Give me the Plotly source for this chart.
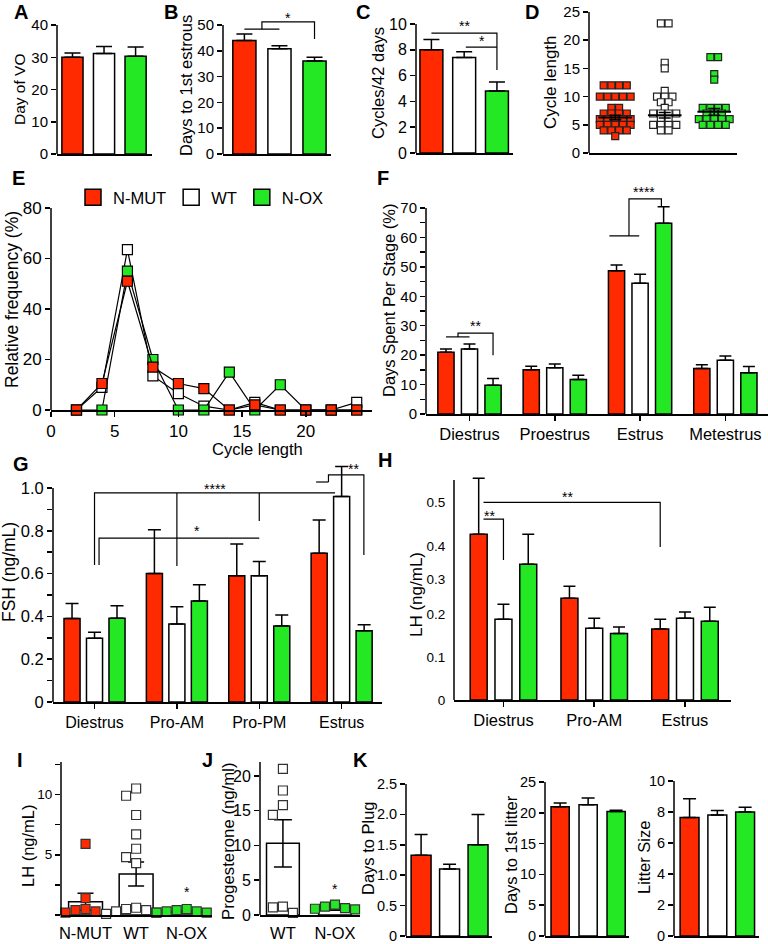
import plotly.graph_objects as go
from collections import Counter, defaultdict

FONT = "Liberation Sans, Arial, Helvetica, sans-serif"
RED = "#FF2A00"
GREEN = "#24E824"
WHITE = "#FFFFFF"
W, H = 768, 944

groups = ["N-MUT", "WT", "N-OX"]
colors = [RED, WHITE, GREEN]

# ---------------- data ----------------
# A: day of vaginal opening
vo_mean = [30.0, 31.2, 30.3]
vo_sem = [1.3, 2.1, 2.9]
# B: days to first estrous
estrous_mean = [44.0, 40.8, 36.0]
estrous_sem = [2.5, 1.2, 1.5]
# C: cycles per 42 days
cycles_mean = [8.0, 7.4, 4.8]
cycles_sem = [0.8, 0.45, 0.7]
# D: individual cycle lengths
cyclen_mut = [12, 12, 12, 12, 10, 10, 10, 10, 10, 8, 8, 7, 7, 7, 7, 6, 6, 6, 6, 6,
              5, 5, 5, 5, 5, 4, 4, 4, 4, 3]
cyclen_wt = [23, 23, 16, 15, 11, 10, 10, 10, 9, 9, 8, 7, 7, 7, 7, 6, 6, 5, 5, 5, 5, 4, 4]
cyclen_ox = [17, 17, 14, 13, 8, 8, 8, 8, 7, 7, 7, 6, 6, 6, 6, 6, 5, 5, 5, 5]
cyclen_mean = [6.3, 6.7, 7.3]
cyclen_sem = [0.4, 0.5, 0.6]
# E: relative frequency of cycle lengths
freq_x = [2, 4, 6, 8, 10, 12, 14, 16, 18, 20, 22, 24]
freq_mut = [0, 10.5, 51, 17, 10.5, 8.5, 0, 2, 0, 0, 0, 0]
freq_wt = [0, 9, 63.5, 13.5, 6.5, 1.5, 0, 3, 0, 0, 0, 3]
freq_ox = [0, 0, 55, 20, 0, 0, 15, 0, 10, 0, 0, 0]
# F: days spent per stage
stages_f = ["Diestrus", "Proestrus", "Estrus", "Metestrus"]
stage_mut = [21.0, 15.0, 48.7, 15.5]
stage_mut_sem = [1.1, 1.2, 1.9, 1.2]
stage_wt = [22.1, 15.7, 44.4, 18.3]
stage_wt_sem = [1.7, 1.3, 3.1, 1.4]
stage_ox = [9.8, 11.7, 64.8, 14.0]
stage_ox_sem = [2.3, 1.5, 5.6, 2.1]
# G: FSH
stages_g = ["Diestrus", "Pro-AM", "Pro-PM", "Estrus"]
fsh_mut = [0.39, 0.60, 0.59, 0.695]
fsh_mut_sem = [0.07, 0.205, 0.148, 0.155]
fsh_wt = [0.298, 0.364, 0.59, 0.96]
fsh_wt_sem = [0.028, 0.081, 0.066, 0.14]
fsh_ox = [0.391, 0.472, 0.355, 0.333]
fsh_ox_sem = [0.059, 0.076, 0.051, 0.028]
# H: LH by stage
stages_h = ["Diestrus", "Pro-AM", "Estrus"]
lh_mut = [0.386, 0.237, 0.165]
lh_mut_sem = [0.13, 0.028, 0.023]
lh_wt = [0.188, 0.167, 0.19]
lh_wt_sem = [0.035, 0.023, 0.015]
lh_ox = [0.316, 0.155, 0.183]
lh_ox_sem = [0.07, 0.015, 0.033]
h_tick_labels = ["0", "0.1", "0.2", "0.3", "0.4", "0.5"]
h_tick_label_vals = [0, 0.1, 0.2, 0.281, 0.358, 0.46]
# I: LH individual
lh_pts_mut = [5.9, 1.4, 0.5, 0.4, 0.3, 0.2]
lh_pts_wt = [10.5, 9.9, 8.3, 6.7, 5.5, 4.8, 4.3, 0.6, 0.5, 0.4, 0.3, 0.2, 0.1]
lh_pts_ox = [0.5, 0.4, 0.3, 0.3, 0.2, 0.2, 0.1]
lh_i_mean = [1.1, 3.4, 0.25]
lh_i_sem = [0.7, 1.0, 0.1]
# J: progesterone
groups_j = ["WT", "N-OX"]
prog_wt = [21.0, 17.9, 15.8, 14.4, 1.2, 1.1, 0.3]
prog_ox = [1.5, 1.2, 1.0, 0.9, 0.8]
prog_mean = [10.3, 0.9]
prog_sem = [3.4, 0.2]
# K
plug_mean = [1.33, 1.1, 1.5]
plug_sem = [0.34, 0.08, 0.5]
litter_day_mean = [21.0, 21.3, 20.2]
litter_day_sem = [0.6, 1.1, 0.2]
litter_size_mean = [7.65, 7.8, 8.0]
litter_size_sem = [1.2, 0.3, 0.3]

# ---------------- helpers ----------------
fig = go.Figure()
layout = dict(width=W, height=H, margin=dict(l=0, r=0, t=0, b=0, autoexpand=False),
              paper_bgcolor="white", plot_bgcolor="white",
              font=dict(family=FONT, color="black"), barmode="overlay",
              showlegend=True)
shapes = []
annotations = []


def xid(n):
    return "x" if n == 1 else f"x{n}"


def yid(n):
    return "y" if n == 1 else f"y{n}"


def panel(n, l, r, top, bot, ytop, yr, xr, yticks, yticktext=None, ytick_size=15,
          minor=None, xticks=None, xticktext=None, xtick_size=16, xticklen=5,
          xtickcolor="black"):
    ytop_px = bot - (bot - top) * yr / ytop
    xa = dict(domain=[l / W, r / W], range=xr, showline=True, linecolor="black",
              linewidth=1.5, showgrid=False, zeroline=False, anchor=yid(n),
              fixedrange=True, ticklabeloverflow="allow")
    if xticks is not None:
        xa.update(tickmode="array", tickvals=xticks, ticktext=xticktext,
                  ticks="outside", ticklen=xticklen, tickwidth=1.5,
                  tickcolor=xtickcolor, tickfont=dict(size=xtick_size))
    else:
        xa.update(showticklabels=False, ticks="")
    ya = dict(domain=[1 - bot / H, 1 - ytop_px / H], range=[0, yr], showline=False,
              showgrid=False, zeroline=False, anchor=xid(n), fixedrange=True,
              tickmode="array", tickvals=yticks, ticklabeloverflow="allow",
              ticktext=yticktext if yticktext is not None else [str(v) for v in yticks],
              ticks="outside", ticklen=5, tickwidth=1.5, tickcolor="black",
              tickfont=dict(size=ytick_size))
    if minor:
        ya["minor"] = dict(tickvals=minor, ticks="outside", ticklen=5, tickwidth=1.5,
                           tickcolor="black")
    layout["xaxis" if n == 1 else f"xaxis{n}"] = xa
    layout["yaxis" if n == 1 else f"yaxis{n}"] = ya
    shapes.append(dict(type="line", xref=f"{xid(n)} domain", yref=yid(n), x0=0, x1=0,
                       y0=0, y1=ytop, line=dict(color="black", width=1.5)))


def bars(n, x, y, cols, width, err, errminus=None, cap=6):
    fig.add_trace(go.Bar(
        x=x, y=y, width=width,
        marker=dict(color=cols, line=dict(color="black", width=1.5)),
        error_y=dict(type="data", array=err,
                     arrayminus=errminus if errminus is not None else [0] * len(err),
                     symmetric=False, color="black", thickness=1.5, width=cap),
        xaxis=xid(n), yaxis=yid(n), showlegend=False, hoverinfo="skip"))


def swarm(vals, center, px_per_y, px_per_x, size):
    """collision-based beeswarm offsets (deterministic)"""
    placed = []
    out = []
    cands = sorted([j * size / 2 for j in range(-24, 25)], key=lambda v: (abs(v), v))
    for v in vals:
        ypx = v * px_per_y
        for c in cands:
            if all(not (abs(c - px) < size and abs(ypx - py) < size) for px, py in placed):
                placed.append((c, ypx))
                out.append(center + c / px_per_x)
                break
    return out


def rows(vals, center, spacing_px, px_per_x):
    """equal values laid side by side, centred on the group"""
    counts = Counter(vals)
    seen = defaultdict(int)
    out = []
    for v in vals:
        i = seen[v]
        seen[v] += 1
        out.append(center + (i - (counts[v] - 1) / 2) * spacing_px / px_per_x)
    return out


def points(n, xs, ys, color, size, lw=1.2, lc="black"):
    fig.add_trace(go.Scatter(
        x=xs, y=ys, mode="markers", cliponaxis=False,
        marker=dict(symbol="square", size=size, color=color, line=dict(color=lc, width=lw)),
        xaxis=xid(n), yaxis=yid(n), showlegend=False, hoverinfo="skip"))


def poly(n, pts, w=1.2):
    d = "M " + " L ".join(f"{x},{y}" for x, y in pts)
    shapes.append(dict(type="path", path=d, xref=xid(n), yref=yid(n),
                       line=dict(color="black", width=w)))


def star(n, x, y, text, size=14):
    annotations.append(dict(x=x, y=y, xref=xid(n), yref=yid(n), text=text,
                            showarrow=False, font=dict(size=size), yanchor="middle"))


def label(x, y, text, size=20, bold=True):
    annotations.append(dict(x=x / W, y=1 - y / H, xref="paper", yref="paper",
                            text=f"<b>{text}</b>" if bold else text, showarrow=False,
                            font=dict(size=size), xanchor="center", yanchor="middle"))


def ytitle(x, y, text, size=16.5):
    annotations.append(dict(x=x / W, y=1 - y / H, xref="paper", yref="paper", text=text,
                            showarrow=False, textangle=-90, font=dict(size=size),
                            xanchor="center", yanchor="middle"))


idx3 = [0, 1, 2]

# ---------------- A ----------------
panel(1, 57, 152, 25, 154, 40, 40, [-0.49, 2.52], [0, 10, 20, 30, 40])
bars(1, idx3, vo_mean, colors, 0.67, vo_sem, cap=8)
# ---------------- B ----------------
panel(2, 223, 331, 25, 154, 50, 56, [-0.61, 2.47], [0, 10, 20, 30, 40, 50])
bars(2, idx3, estrous_mean, colors, 0.66, estrous_sem, cap=8)
poly(2, [(0, 48.4), (1, 48.4)])
poly(2, [(0.5, 48.4), (0.5, 51.2), (2, 51.2), (2, 44.6)])
star(2, 1.25, 52.9, "*")
# ---------------- C ----------------
panel(3, 416, 513, 24, 153, 10, 10.5, [-0.47, 2.49], [0, 2, 4, 6, 8, 10], ytick_size=16)
bars(3, idx3, cycles_mean, colors, 0.7, cycles_sem, cap=8)
poly(3, [(0, 9.3), (2, 9.3), (2, 6.43)])
poly(3, [(1.05, 8.2), (2, 8.2)])
star(3, 1.0, 9.85, "**")
star(3, 1.54, 8.7, "*")
# ---------------- D ----------------
panel(4, 589, 737, 12, 153, 25, 25, [-0.53, 2.46], [0, 5, 10, 15, 20, 25])
for k, (vals, col) in enumerate([(cyclen_mut, RED), (cyclen_wt, WHITE), (cyclen_ox, GREEN)]):
    xs = rows(vals, k, 7.7, 49.5)
    points(4, xs, vals, col, 7, lw=1.2, lc="#222")
fig.add_trace(go.Scatter(
    x=idx3, y=cyclen_mean, mode="markers", cliponaxis=False,
    marker=dict(symbol="line-ew", size=24, line=dict(color="black", width=2)),
    error_y=dict(type="data", array=cyclen_sem, color="black", thickness=1.5, width=6),
    xaxis="x4", yaxis="y4", showlegend=False, hoverinfo="skip"))
# ---------------- E ----------------
panel(5, 51, 372, 208, 410, 80, 80, [0, 25.2], [0, 20, 40, 60, 80], ytick_size=17,
      xticks=[0, 5, 10, 15, 20], xticktext=["0", "5", "10", "15", "20"], xtick_size=17)
for ys, col in [(freq_wt, WHITE), (freq_ox, GREEN), (freq_mut, RED)]:
    fig.add_trace(go.Scatter(
        x=freq_x, y=ys, mode="lines+markers", cliponaxis=False,
        line=dict(color="black", width=1.2),
        marker=dict(symbol="square", size=10, color=col, line=dict(color="black", width=1.2)),
        xaxis="x5", yaxis="y5", showlegend=False, hoverinfo="skip"))
for name, col in zip(groups, colors):
    fig.add_trace(go.Scatter(
        x=[None], y=[None], mode="markers", name=name,
        marker=dict(symbol="square", size=16, color=col, line=dict(color="black", width=1.5)),
        xaxis="x5", yaxis="y5", showlegend=True))
layout["legend"] = dict(orientation="h", x=73 / W, y=1 - 180 / H, xanchor="left",
                        yanchor="top", font=dict(size=16.5), bgcolor="rgba(0,0,0,0)",
                        itemsizing="trace", tracegroupgap=0)
annotations.append(dict(x=210 / W, y=1 - 449 / H, xref="paper", yref="paper",
                        text="Cycle length", showarrow=False, font=dict(size=16.5)))
# ---------------- F ----------------
off_f = 0.276
panel(6, 426, 768, 208, 414, 70, 78, [-0.51, 3.5], [0, 10, 20, 30, 40, 50, 60, 70],
      minor=[5, 15, 25, 35, 45, 55, 65], xticks=[0, 1, 2, 3], xticktext=stages_f,
      xtick_size=16.5)
gf = list(range(len(stages_f)))
bars(6, [g - off_f for g in gf], stage_mut, RED, 0.19, stage_mut_sem, cap=6)
bars(6, gf, stage_wt, WHITE, 0.19, stage_wt_sem, cap=6)
bars(6, [g + off_f for g in gf], stage_ox, GREEN, 0.19, stage_ox_sem, cap=6)
poly(6, [(-0.276, 26.2), (0, 26.2)])
poly(6, [(-0.135, 26.2), (-0.135, 27.5), (0.276, 27.5), (0.276, 20.0)])
star(6, 0.076, 29.8, "**")
poly(6, [(1.64, 60.5), (1.99, 60.5)])
poly(6, [(1.87, 60.5), (1.87, 73.1), (2.25, 73.1), (2.25, 70.7)])
star(6, 2.05, 75.4, "****")
# ---------------- G ----------------
off_g = 0.273
panel(7, 53, 382, 488, 702, 1.0, 1.15, [-0.504, 3.49], [0, 0.2, 0.4, 0.6, 0.8, 1.0],
      yticktext=["0", "0.2", "0.4", "0.6", "0.8", "1.0"], ytick_size=16.5,
      minor=[0.1, 0.3, 0.5, 0.7, 0.9], xticks=[0, 1, 2, 3], xticktext=stages_g,
      xtick_size=16)
gg = list(range(len(stages_g)))
bars(7, [g - off_g for g in gg], fsh_mut, RED, 0.195, fsh_mut_sem, cap=6.5)
bars(7, gg, fsh_wt, WHITE, 0.195, fsh_wt_sem, cap=6.5)
bars(7, [g + off_g for g in gg], fsh_ox, GREEN, 0.195, fsh_ox_sem, cap=6.5)
poly(7, [(0, 0.64), (0, 0.977), (2.92, 0.977)])
poly(7, [(1.0, 0.636), (1.0, 0.977)])
poly(7, [(2.0, 0.846), (2.0, 0.977)])
poly(7, [(0.055, 0.64), (0.055, 0.766), (2.0, 0.766)])
poly(7, [(2.69, 1.028), (2.84, 1.028)])
poly(7, [(2.84, 1.028), (2.84, 1.061), (3.27, 1.061), (3.27, 0.687)])
star(7, 1.464, 0.995, "****")
star(7, 1.245, 0.80, "*")
star(7, 3.15, 1.088, "**")
# ---------------- H ----------------
off_h = 0.273
panel(8, 454, 731, 480, 700, 0.512, 0.53, [-0.545, 2.507], h_tick_label_vals,
      yticktext=h_tick_labels, ytick_size=13.5, xticks=[0, 1, 2], xticktext=stages_h,
      xtick_size=16.5)
layout["yaxis8"]["tickcolor"] = "rgba(0,0,0,0)"
layout["yaxis14"] = dict(overlaying="y8", anchor="x8", range=[0, 0.53], showline=False,
                         showgrid=False, zeroline=False, showticklabels=False,
                         tickmode="array", tickvals=[i * 0.05 for i in range(11)],
                         ticks="outside", ticklen=5, tickwidth=1.5, tickcolor="black",
                         fixedrange=True)
gh = list(range(len(stages_h)))
bars(8, [g - off_h for g in gh], lh_mut, RED, 0.187, lh_mut_sem, cap=6)
bars(8, gh, lh_wt, WHITE, 0.187, lh_wt_sem, cap=6)
bars(8, [g + off_h for g in gh], lh_ox, GREEN, 0.187, lh_ox_sem, cap=6)
poly(8, [(-0.22, 0.46), (1.727, 0.46), (1.727, 0.356)])
poly(8, [(-0.22, 0.421), (0, 0.421), (0, 0.326)])
star(8, 0.70, 0.472, "**")
star(8, -0.149, 0.428, "**")
# ---------------- I ----------------
panel(9, 61, 212, 762, 915, 12.7, 12.7, [-0.485, 2.5], [0, 5, 10],
      yticktext=["", "5", "10"], ytick_size=13.5, minor=[2.5, 7.5, 12.5],
      xticks=idx3, xticktext=groups, xtick_size=16.5, xticklen=3,
      xtickcolor="rgba(0,0,0,0)")
bars(9, idx3, lh_i_mean, WHITE, 0.67, lh_i_sem, errminus=lh_i_sem, cap=8)
for k, (vals, col) in enumerate([(lh_pts_mut, RED), (lh_pts_wt, WHITE), (lh_pts_ox, GREEN)]):
    xs = swarm(vals, k, 153 / 12.7, 50.5, 10)
    points(9, xs, vals, col, 9, lw=1.2, lc="#333")
star(9, 2.0, 1.9, "*")
# ---------------- J ----------------
panel(10, 260, 360, 762, 915, 22, 22, [-0.44, 1.48], [0, 5, 10, 15, 20], ytick_size=16,
      xticks=[0, 1], xticktext=groups_j, xtick_size=16.5, xticklen=3,
      xtickcolor="rgba(0,0,0,0)")
bars(10, [0, 1], prog_mean, WHITE, 0.63, prog_sem, errminus=prog_sem, cap=9)
for k, (vals, col) in enumerate([(prog_wt, WHITE), (prog_ox, GREEN)]):
    xs = swarm(vals, k, 153 / 22, 52, 10)
    points(10, xs, vals, col, 9, lw=1.2, lc="#333")
star(10, 1.0, 3.7, "*")
# ---------------- K ----------------
panel(11, 406, 492, 784, 936, 2.5, 2.5, [-0.53, 2.49], [0, 0.5, 1.0, 1.5, 2.0, 2.5],
      yticktext=["0", "0.5", "1.0", "1.5", "2.0", "2.5"], ytick_size=14.5)
bars(11, idx3, plug_mean, colors, 0.7, plug_sem, cap=6.5)
panel(12, 545, 629, 782, 936, 25, 25, [-0.54, 2.46], [0, 5, 10, 15, 20, 25],
      ytick_size=14.5)
bars(12, idx3, litter_day_mean, colors, 0.65, litter_day_sem, cap=6.5)
panel(13, 674, 759, 781, 936, 10, 10, [-0.56, 2.5], [0, 2, 4, 6, 8, 10],
      ytick_size=14.5)
bars(13, idx3, litter_size_mean, colors, 0.68, litter_size_sem, cap=6.5)

# ---------------- titles & letters ----------------
ytitle(19, 89, "Day of VO", 15.5)
ytitle(186, 86, "Days to 1st estrous")
ytitle(378, 83, "Cycles/42 days")
ytitle(551, 82, "Cycle length", 17)
ytitle(12, 300, "Relative frequency (%)", 17.5)
ytitle(389, 300, "Days Spent Per Stage (%)")
ytitle(9, 572, "FSH (ng/mL)", 17.5)
ytitle(416, 595, "LH (ng/mL)", 17)
ytitle(28, 846, "LH (ng/mL)")
ytitle(228, 841, "Progesterone (ng/ml)", 16.8)
ytitle(368, 848, "Days to Plug")
ytitle(511, 855, "Days to 1st litter")
ytitle(644, 858, "Litter Size")

for t, x, y in [("A", 21, 12), ("B", 171, 12), ("C", 363, 12), ("D", 532, 12),
                ("E", 18, 178), ("F", 383, 178), ("G", 21, 464), ("H", 385, 460),
                ("I", 20, 760), ("J", 207, 760), ("K", 360, 760)]:
    label(x, y, t)

layout["shapes"] = shapes
layout["annotations"] = annotations
fig.update_layout(**layout)
fig.write_html("out.html", config={"displayModeBar": False, "staticPlot": True},
               post_script="document.body.style.margin='0';"
                           "document.body.style.padding='0';"
                           "document.body.style.overflow='hidden';")
